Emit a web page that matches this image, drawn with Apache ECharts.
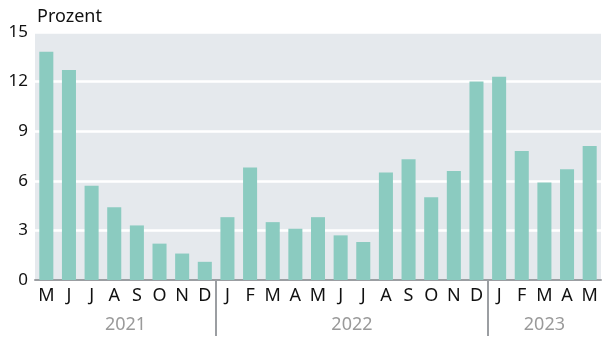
<!DOCTYPE html>
<html>
<head>
<meta charset="utf-8">
<script src="https://cdn.jsdelivr.net/npm/echarts@6/dist/echarts.min.js"></script>
<style>
  html, body { margin: 0; padding: 0; background: #fff; }
  #chart { width: 602px; height: 337px; }
</style>
</head>
<body>
<div id="chart"></div>
<script>
var months = ['M', 'J', 'J', 'A', 'S', 'O', 'N', 'D',
              'J', 'F', 'M', 'A', 'M', 'J', 'J', 'A', 'S', 'O', 'N', 'D',
              'J', 'F', 'M', 'A', 'M'];
var values = [13.8, 12.7, 5.7, 4.4, 3.3, 2.2, 1.6, 1.1,
              3.8, 6.8, 3.5, 3.1, 3.8, 2.7, 2.3, 6.5, 7.3, 5.0, 6.6, 12.0,
              12.3, 7.8, 5.9, 6.7, 8.1];
var years = ['2021', '2022', '2023'];
var monthsPerYear = [8, 12, 5];
var yTicks = [0, 3, 6, 9, 12, 15];

// Hilfsachse mit halben Monatsschritten: Jahreslabel mittig, Trennstriche am Jahreswechsel
var halfSteps = months.length * 2 + 1;
var yearAxisData = [];
for (var i = 0; i < halfSteps; i++) yearAxisData.push('');
var separators = [];
var start = 0;
years.forEach(function (y, k) {
    yearAxisData[start + monthsPerYear[k]] = y;
    start += monthsPerYear[k] * 2;
    if (k < years.length - 1) separators.push(start);
});

var chart = echarts.init(document.getElementById('chart'));
var option = {
    animation: false,
    textStyle: { fontFamily: 'Noto Sans' },
    title: {
        text: 'Prozent',
        left: 32,
        top: 3,
        textStyle: { fontSize: 18, fontWeight: 'normal', color: '#111', fontFamily: 'Noto Sans' }
    },
    grid: {
        left: 35, right: 1, top: 32, bottom: 57,
        show: true, backgroundColor: '#e5e9ed', borderWidth: 0
    },
    xAxis: [
        {
            type: 'category',
            data: months,
            axisLine: { lineStyle: { color: '#9b9ea2', width: 2 } },
            axisTick: { show: false },
            axisLabel: { interval: 0, fontSize: 18, color: '#111', margin: 7 }
        },
        {
            type: 'category',
            data: yearAxisData,
            boundaryGap: false,
            position: 'bottom',
            axisLine: { show: false },
            axisTick: {
                show: true,
                length: 56,
                interval: function (idx) { return separators.indexOf(idx) >= 0; },
                lineStyle: { color: '#9b9ea2', width: 2 }
            },
            axisLabel: {
                interval: function (idx, val) { return val !== ''; },
                fontSize: 18, color: '#9a9a9a', margin: 36
            }
        }
    ],
    yAxis: {
        type: 'value',
        min: yTicks[0],
        max: yTicks[yTicks.length - 1],
        interval: 3,
        axisLine: { show: false },
        axisTick: { show: false },
        axisLabel: { fontSize: 17, color: '#111', margin: 7 },
        splitLine: { lineStyle: { color: '#ffffff', width: 2.5 } }
    },
    series: [
        {
            type: 'bar',
            data: values,
            barWidth: '62%',
            itemStyle: { color: '#8bcbc0' }
        }
    ]
};
chart.setOption(option);
</script>
</body>
</html>
